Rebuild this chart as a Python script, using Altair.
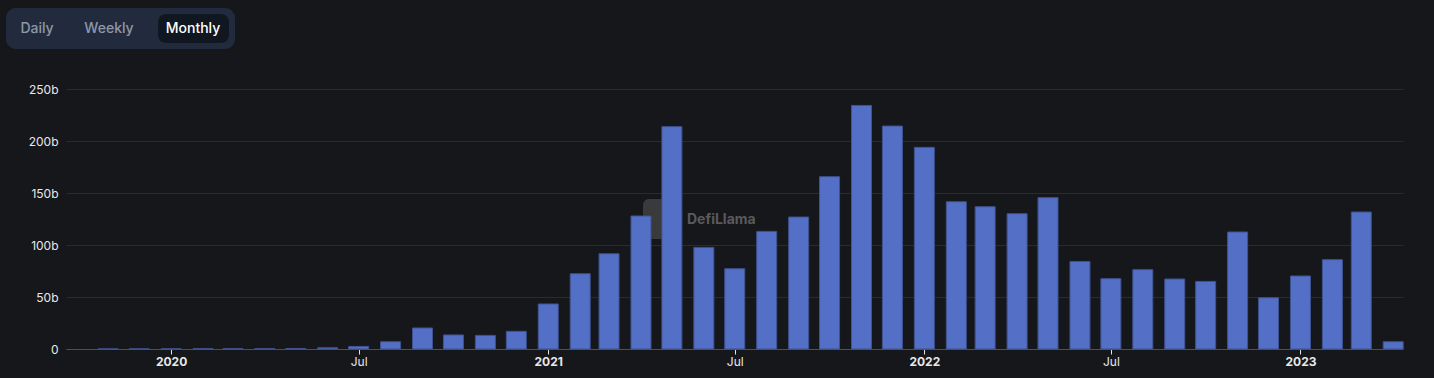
import altair as alt
import pandas as pd

# Monthly volume (billions USD)
months = [
    "2019-11", "2019-12",
    "2020-01", "2020-02", "2020-03", "2020-04", "2020-05", "2020-06",
    "2020-07", "2020-08", "2020-09", "2020-10", "2020-11", "2020-12",
    "2021-01", "2021-02", "2021-03", "2021-04", "2021-05", "2021-06",
    "2021-07", "2021-08", "2021-09", "2021-10", "2021-11", "2021-12",
    "2022-01", "2022-02", "2022-03", "2022-04", "2022-05", "2022-06",
    "2022-07", "2022-08", "2022-09", "2022-10", "2022-11", "2022-12",
    "2023-01", "2023-02", "2023-03", "2023-04",
]
volume_b = [
    0.1, 0.15,
    0.2, 0.3, 0.4, 0.4, 0.5, 1.2,
    2.5, 7.0, 20.2, 13.5, 13.1, 17.0,
    43.3, 72.4, 91.6, 127.9, 213.8, 97.7,
    77.2, 113.1, 126.9, 165.7, 234.2, 214.4,
    193.9, 141.6, 136.8, 130.1, 145.5, 84.2,
    67.6, 76.3, 67.3, 65.0, 112.5, 49.3,
    70.2, 85.9, 131.7, 7.0,
]

y_ticks = [0, 50, 100, 150, 200, 250]
x_tick_dates = ["2020-01", "2020-07", "2021-01", "2021-07", "2022-01", "2022-07", "2023-01"]

tabs = ["Daily", "Weekly", "Monthly"]
selected_tab = "Monthly"
watermark = "DefiLlama"

df = pd.DataFrame({"date": [m + "-01T00:00:00" for m in months], "volume": volume_b})
one = pd.DataFrame({"k": [0]})


def dt(s):
    y, m = s.split("-")
    return alt.DateTime(year=int(y), month=int(m), date=1)


x_scale = alt.Scale(
    domain=[alt.DateTime(year=2019, month=9, date=21),
            alt.DateTime(year=2023, month=4, date=10, hours=12)],
    nice=False,
    padding=0,
)

bars = alt.Chart(df).mark_bar(size=20, color="#5470c6", stroke="#3f5290", strokeWidth=1).encode(
    x=alt.X(
        "date:T",
        scale=x_scale,
        axis=alt.Axis(
            values=[dt(s) for s in x_tick_dates],
            labelExpr="month(datum.value) == 0 ? timeFormat(datum.value, '%Y') : timeFormat(datum.value, '%b')",
            labelFontWeight={"condition": {"test": "month(datum.value) == 0", "value": "bold"}, "value": "normal"},
            title=None,
            grid=False,
            domainColor="#4d5058",
            tickColor="#e6e6e6",
            tickSize=5,
            labelColor="#e8e8e8",
            labelFontSize=12,
            labelPadding=2,
            labelFont="Inter",
        ),
    ),
    y=alt.Y(
        "volume:Q",
        scale=alt.Scale(domain=[0, 250], nice=False),
        axis=alt.Axis(
            values=y_ticks,
            labelExpr="datum.value == 0 ? '0' : datum.value + 'b'",
            title=None,
            domain=False,
            ticks=False,
            gridColor="#2a2b30",
            labelColor="#e8e8e8",
            labelFontSize=12,
            labelPadding=8,
            labelFont="Inter",
        ),
    ),
)

# watermark (behind bars)
logo = alt.Chart(one).mark_rect(color="#3a3a3d", cornerRadius=6).encode(
    x=alt.value(577), x2=alt.value(616), y=alt.value(110), y2=alt.value(150)
)
wm_text = alt.Chart(one).mark_text(
    text=watermark, align="left", baseline="middle", font="Inter", fontSize=14,
    fontWeight="bold", color="#5a5a5d"
).encode(x=alt.value(621), y=alt.value(131))

# tab switcher
group = alt.Chart(one).mark_rect(color="#222b3d", cornerRadius=10).encode(
    x=alt.value(-60), x2=alt.value(169), y=alt.value(-81), y2=alt.value(-40)
)
pill = alt.Chart(one).mark_rect(color="#111721", cornerRadius=8).encode(
    x=alt.value(92), x2=alt.value(163), y=alt.value(-75), y2=alt.value(-46)
)
tab_x = [-29, 43, 127]
tab_layers = []
for name, xv in zip(tabs, tab_x):
    tab_layers.append(
        alt.Chart(one).mark_text(
            text=name, align="center", baseline="middle", font="Inter", fontSize=14,
            fontWeight=500, color="#ffffff" if name == selected_tab else "#8e97a8"
        ).encode(x=alt.value(xv), y=alt.value(-60))
    )

chart = alt.layer(logo, bars, wm_text, group, pill, *tab_layers).properties(
    width=1337,
    height=260,
    padding={"left": 66, "top": 89, "right": 31, "bottom": 29},
    autosize=alt.AutoSizeParams(type="none"),
    background="#16171b",
).configure_view(strokeWidth=0)

chart.save("out.html", embed_options={"renderer": "svg", "actions": False})
